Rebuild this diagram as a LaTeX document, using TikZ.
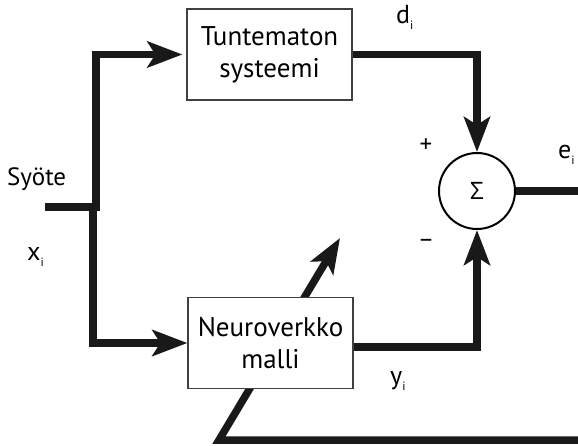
\documentclass[tikz,border=0pt]{standalone}
\usepackage{fontspec}
\setmainfont{PT Sans}
\newfontfamily\sigmafont{Open Sans}
\usetikzlibrary{arrows.meta}
% small lowered index letter
\newcommand{\idx}{\raisebox{-6pt}{\fontsize{12}{12}\selectfont i}}
\begin{document}
\begin{tikzpicture}[x=1pt,y=-1pt,
  blk/.style={draw=black!75, line width=1.2pt, fill=white,
    minimum width=165pt, minimum height=91pt, align=center,
    font=\fontsize{27}{32}\selectfont, inner sep=0pt},
  wire/.style={line width=7.5pt, draw=black!90, line join=miter},
  flow/.style={wire, -{Stealth[length=35pt,width=26pt,inset=8pt]}},
  lbl/.style={font=\fontsize{25}{25}\selectfont, inner sep=0pt},
  var/.style={font=\fontsize{26}{26}\selectfont, inner sep=0pt, anchor=base west},
  ]
\useasboundingbox (0,0) rectangle (578,445);

% adaptation feedback path, passing under the model block
\coordinate (fbR) at (578,440);
\coordinate (fbC) at (219,440);
\coordinate (fbT) at (340,238);
\draw[flow] (fbR) -- (fbC) -- (fbT);

% blocks
\node[blk] (sys) at (269.5,54.5) {Tuntematon\\systeemi};
\node[blk] (nn) at (270.5,343) {Neuroverkko\\malli};
\node[draw, circle, line width=2pt, minimum size=76pt, inner sep=0pt,
      font=\sigmafont\fontsize{24}{24}\selectfont] (sum) at (477,191) {Σ};

% input and its two branches
\coordinate (in) at (45,207);
\coordinate (split) at (96,207);
\coordinate (up) at (96,54.5);
\coordinate (dsplit) at (93,211);
\coordinate (down) at (93,343);
\draw[flow, shorten >=4pt] (in) -- (split) -- (up) -- (sys.west);
\draw[flow] (dsplit) -- (down) -- (nn.west);

% to the summing junction
\draw[flow] (sys.east) -| (sum.north);
\draw[flow] ([yshift=-4pt]nn.east) -| (sum.south);

% error output
\coordinate (out) at (578,191);
\draw[wire] (sum.east) -- (out);

% labels
\node[lbl, anchor=base west] (syote) at (7,185) {Syöte};
\node[var] (xi) at (27,260) {x\idx};
\node[var] (di) at (396,23) {d\idx};
\node[var] (yi) at (390,384) {y\idx};
\node[var] (ei) at (558,158) {e\idx};
\node[lbl] (plus) at (426,146) {+};
\node[lbl] (minus) at (426,243) {–};
\end{tikzpicture}
\end{document}
